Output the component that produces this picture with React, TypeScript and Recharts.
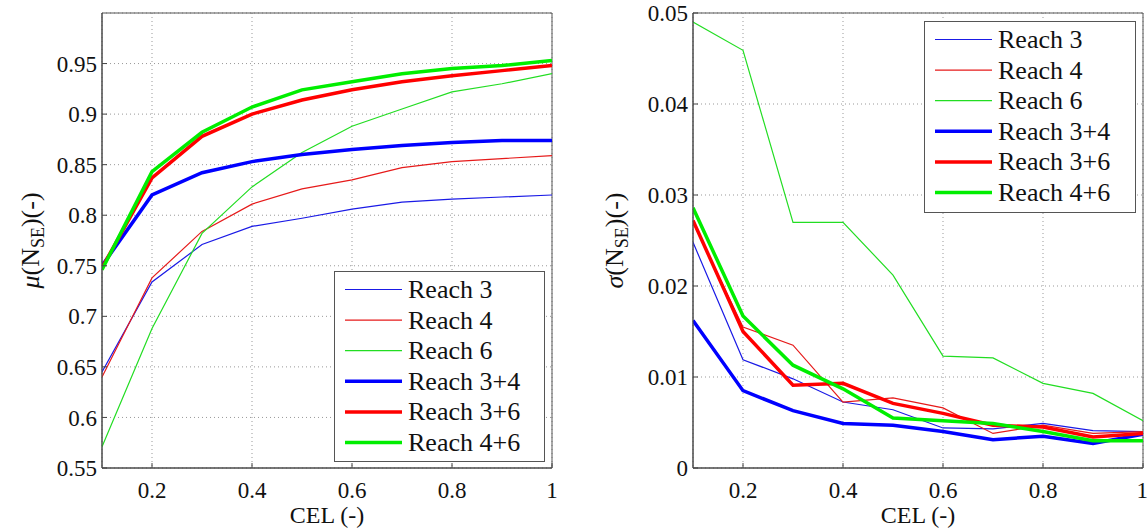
import React from 'react';
import { LineChart, Line, XAxis, YAxis, CartesianGrid, ReferenceArea, Legend } from 'recharts';

const CEL = [0.1, 0.2, 0.3, 0.4, 0.5, 0.6, 0.7, 0.8, 0.9, 1.0];

// mean of N_SE
const MU_R3 = [0.645, 0.734, 0.771, 0.789, 0.797, 0.806, 0.813, 0.816, 0.818, 0.82];
const MU_R4 = [0.64, 0.738, 0.784, 0.811, 0.826, 0.835, 0.847, 0.853, 0.856, 0.859];
const MU_R6 = [0.571, 0.688, 0.782, 0.828, 0.862, 0.888, 0.905, 0.922, 0.93, 0.94];
const MU_R34 = [0.75, 0.82, 0.842, 0.853, 0.86, 0.865, 0.869, 0.872, 0.874, 0.874];
const MU_R36 = [0.748, 0.837, 0.878, 0.9, 0.914, 0.924, 0.932, 0.938, 0.943, 0.948];
const MU_R46 = [0.746, 0.843, 0.882, 0.907, 0.924, 0.932, 0.94, 0.945, 0.948, 0.953];

// std of N_SE
const SD_R3 = [0.0248, 0.0119, 0.0098, 0.00725, 0.0064, 0.0044, 0.0043, 0.0049, 0.0041, 0.004];
const SD_R4 = [0.027, 0.0155, 0.0135, 0.00725, 0.0077, 0.0066, 0.0038, 0.0047, 0.0038, 0.004];
const SD_R6 = [0.049, 0.0459, 0.027, 0.027, 0.0212, 0.0123, 0.0121, 0.0093, 0.0082, 0.0052];
const SD_R34 = [0.0162, 0.0085, 0.0063, 0.0049, 0.0047, 0.004, 0.0031, 0.0035, 0.0027, 0.0037];
const SD_R36 = [0.0272, 0.015, 0.0091, 0.0093, 0.0071, 0.006, 0.0047, 0.0045, 0.0034, 0.0038];
const SD_R46 = [0.0286, 0.0167, 0.0113, 0.0087, 0.0055, 0.0052, 0.0049, 0.004, 0.003, 0.003];

const X_TICKS = [0.2, 0.4, 0.6, 0.8, 1];
const MU_TICKS = [0.55, 0.6, 0.65, 0.7, 0.75, 0.8, 0.85, 0.9, 0.95];
const SD_TICKS = [0, 0.01, 0.02, 0.03, 0.04, 0.05];

const SERIES_NAMES = ['Reach 3', 'Reach 4', 'Reach 6', 'Reach 3+4', 'Reach 3+6', 'Reach 4+6'];
const SERIES_KEYS = ['r3', 'r4', 'r6', 'r34', 'r36', 'r46'];
const SERIES_COLORS = ['#1a1ae6', '#e61a1a', '#22dd22', '#0000ff', '#ff0000', '#00ee00'];
const SERIES_WIDTHS = [1.2, 1.2, 1.2, 3.5, 3.5, 3.5];

const FONT = 'Liberation Serif, DejaVu Serif, serif';

function buildRows(cols: number[][]) {
  return CEL.map((x, i) => {
    const row: Record<string, number> = { x };
    SERIES_KEYS.forEach((k, j) => {
      row[k] = cols[j][i];
    });
    return row;
  });
}

const MU_DATA = buildRows([MU_R3, MU_R4, MU_R6, MU_R34, MU_R36, MU_R46]);
const SD_DATA = buildRows([SD_R3, SD_R4, SD_R6, SD_R34, SD_R36, SD_R46]);

function LegendBox({ w, h }: { w: number; h: number }) {
  return (
    <svg width={w} height={h} style={{ display: 'block' }}>
      <rect x={0.5} y={0.5} width={w - 1} height={h - 1} fill="#fff" stroke="#555" strokeWidth={1} />
      {SERIES_NAMES.map((name, i) => {
        const cy = 18.5 + i * 30.6;
        return (
          <g key={name}>
            <line x1={11} x2={68} y1={cy} y2={cy} stroke={SERIES_COLORS[i]} strokeWidth={SERIES_WIDTHS[i]} />
            <text x={74} y={cy + 8.5} style={{ fontFamily: FONT }} fontSize={26} fill="#111">
              {name}
            </text>
          </g>
        );
      })}
    </svg>
  );
}

function makeYLabel(sym: string, fromRight: number) {
  return (props: any) => {
    const vb = props.viewBox || { x: 0, y: 13, width: 100, height: 455 };
    const bx = vb.x + vb.width - fromRight;
    const cy = vb.y + vb.height / 2;
    return (
      <text
        x={bx}
        y={cy}
        transform={`rotate(-90, ${bx}, ${cy})`}
        textAnchor="middle"
        style={{ fontFamily: FONT }}
        fontSize={26}
        fill="#111"
      >
        <tspan fontStyle="italic">{sym}</tspan>
        <tspan>(N</tspan>
        <tspan fontSize={18} dy={5}>SE</tspan>
        <tspan dy={-5}>)(-)</tspan>
      </text>
    );
  };
}

type PanelProps = {
  data: Record<string, number>[];
  yDomain: [number, number];
  yTicks: number[];
  yAxisWidth: number;
  marginRight: number;
  sym: string;
  labelFromRight: number;
  legendPos: { left: number; top: number; width: number; height: number };
};

function Panel({ data, yDomain, yTicks, yAxisWidth, marginRight, sym, labelFromRight, legendPos }: PanelProps) {
  const tickStyle = { fill: '#111', fontSize: 23, fontFamily: FONT, style: { fontFamily: FONT } };
  return (
    <LineChart width={574} height={530} data={data} margin={{ top: 13, right: marginRight, bottom: 0, left: 0 }}>
      <CartesianGrid stroke="#999" strokeDasharray="1 3" strokeWidth={1} />
      <XAxis
        type="number"
        dataKey="x"
        domain={[0.1, 1]}
        ticks={X_TICKS}
        tickFormatter={(v: number) => String(v)}
        height={62}
        stroke="#444"
        tickSize={-5}
        tickMargin={19}
        tick={tickStyle}
        allowDataOverflow
        label={{ value: 'CEL (-)', position: 'insideBottom', offset: 7, fontFamily: FONT, style: { fontFamily: FONT }, fontSize: 24, fill: '#111' }}
      />
      <XAxis
        xAxisId="top"
        orientation="top"
        type="number"
        dataKey="x"
        domain={[0.1, 1]}
        ticks={X_TICKS}
        height={0}
        stroke="#555"
        tickSize={-5}
        tick={false}
        allowDataOverflow
      />
      <YAxis
        type="number"
        domain={yDomain}
        ticks={yTicks}
        tickFormatter={(v: number) => String(v)}
        width={yAxisWidth}
        stroke="#444"
        tickSize={-5}
        tickMargin={10}
        tick={tickStyle}
        allowDataOverflow
        label={makeYLabel(sym, labelFromRight)}
      />
      <YAxis
        yAxisId="right"
        orientation="right"
        type="number"
        domain={yDomain}
        ticks={yTicks}
        width={0}
        stroke="#555"
        tickSize={-5}
        tick={false}
        allowDataOverflow
      />
      <ReferenceArea x1={0.1} x2={1} y1={yDomain[0]} y2={yDomain[1]} fill="none" stroke="#555" strokeWidth={1} />
      {SERIES_KEYS.map((k, i) => (
        <Line
          key={k}
          type="linear"
          dataKey={k}
          name={SERIES_NAMES[i]}
          stroke={SERIES_COLORS[i]}
          strokeWidth={SERIES_WIDTHS[i]}
          dot={false}
          activeDot={false}
          isAnimationActive={false}
        />
      ))}
      <Legend
        layout="vertical"
        align="center"
        verticalAlign="middle"
        wrapperStyle={{ position: 'absolute', ...legendPos }}
        content={() => <LegendBox w={legendPos.width} h={legendPos.height} />}
      />
    </LineChart>
  );
}

export default function App() {
  return (
    <div style={{ position: 'absolute', left: 0, top: 0, width: 1148, height: 530, background: '#fff', fontFamily: FONT }}>
      <div style={{ position: 'absolute', left: 0, top: 0 }}>
        <Panel
          data={MU_DATA}
          yDomain={[0.55, 1]}
          yTicks={MU_TICKS}
          yAxisWidth={102}
          marginRight={22}
          sym="μ"
          labelFromRight={63}
          legendPos={{ left: 334, top: 271, width: 211, height: 191 }}
        />
      </div>
      <div style={{ position: 'absolute', left: 574, top: 0 }}>
        <Panel
          data={SD_DATA}
          yDomain={[0, 0.05]}
          yTicks={SD_TICKS}
          yAxisWidth={119}
          marginRight={5}
          sym="σ"
          labelFromRight={70}
          legendPos={{ left: 350, top: 21, width: 212, height: 192 }}
        />
      </div>
    </div>
  );
}
